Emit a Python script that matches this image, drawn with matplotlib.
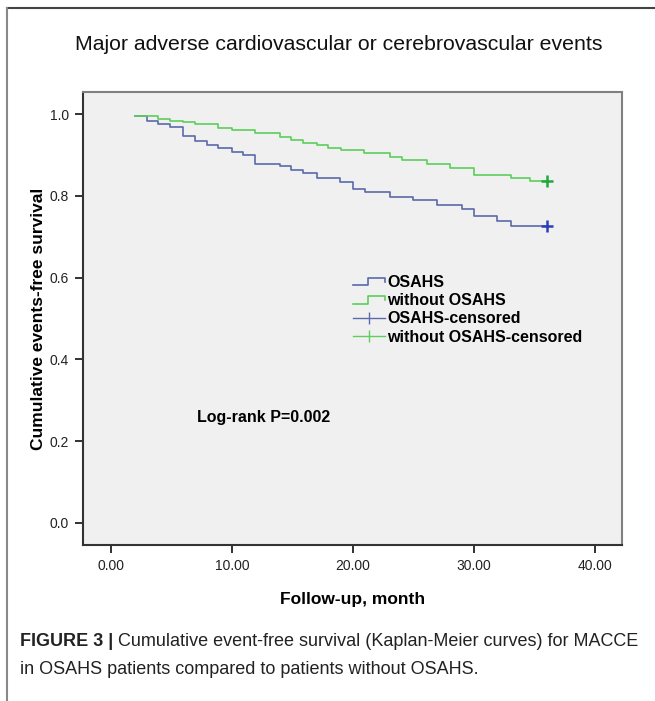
import numpy as np
import matplotlib.pyplot as plt
from matplotlib.lines import Line2D
from matplotlib.legend_handler import HandlerBase

plt.rcParams['font.family'] = ['Liberation Sans', 'DejaVu Sans']

# Kaplan-Meier step data (time in months, survival)
osahs_t = [2.0, 2.95, 3.9, 4.88, 5.98, 6.94, 7.9, 8.87, 9.97, 10.9, 11.9, 13.97,
           14.9, 15.9, 17.0, 18.9, 20.0, 21.0, 23.06, 24.98, 26.9, 29.0, 29.95,
           31.9, 33.0, 36.0]
osahs_s = [0.995, 0.983, 0.976, 0.968, 0.946, 0.935, 0.924, 0.916, 0.908, 0.900,
           0.878, 0.872, 0.863, 0.855, 0.843, 0.835, 0.817, 0.810, 0.797, 0.790,
           0.778, 0.767, 0.750, 0.739, 0.727, 0.727]

ctrl_t = [2.0, 3.9, 4.88, 5.98, 6.94, 8.87, 9.97, 11.9, 13.97, 14.9, 15.9, 17.0,
          17.9, 19.0, 20.9, 23.06, 24.0, 26.1, 28.0, 29.95, 33.0, 34.6, 36.0]
ctrl_s = [0.995, 0.988, 0.984, 0.980, 0.975, 0.966, 0.961, 0.953, 0.943, 0.937,
          0.930, 0.924, 0.918, 0.912, 0.904, 0.896, 0.888, 0.878, 0.867, 0.851,
          0.843, 0.837, 0.837]

xticks = [0, 10, 20, 30, 40]
yticks = [0.0, 0.2, 0.4, 0.6, 0.8, 1.0]

blue = '#5a6aaa'
green = '#5ccf5c'
blue_c = '#2d3fb8'
green_c = '#22a83a'


class StepHandler(HandlerBase):
    def create_artists(self, legend, orig_handle, xdescent, ydescent,
                       width, height, fontsize, trans):
        x = np.array([0, 0.45, 0.45, 1.0, 1.0]) * width - xdescent
        y = np.array([0.15, 0.15, 0.85, 0.85, 0.45]) * height - ydescent
        ln = Line2D(x, y, color=orig_handle.get_color(), lw=1.2)
        ln.set_transform(trans)
        return [ln]


fig = plt.figure(figsize=(6.55, 7.01), dpi=100)
ax = fig.add_axes([83 / 655, 1 - 545 / 701, 539 / 655, 453 / 701])
ax.set_facecolor('#f0f0f0')

ax.step(osahs_t, osahs_s, where='post', color=blue, lw=1.2)
ax.step(ctrl_t, ctrl_s, where='post', color=green, lw=1.2)
ax.plot(osahs_t[-1], osahs_s[-1], marker='+', color=blue_c, ms=9, mew=1.8)
ax.plot(ctrl_t[-1], ctrl_s[-1], marker='+', color=green_c, ms=9, mew=1.8)

ax.set_xlim(-2.3, 42.2)
ax.set_ylim(-0.054, 1.054)
ax.set_xticks(xticks)
ax.set_xticklabels([f'{v:.2f}' for v in xticks], fontsize=10, color='#222222')
ax.set_yticks(yticks)
ax.set_yticklabels([f'{v:.1f}' for v in yticks], fontsize=10, color='#222222')
ax.tick_params(axis='both', direction='out', length=6, width=1.3, color='#222222', pad=4)

for s in ['left', 'bottom']:
    ax.spines[s].set_color('#333333')
    ax.spines[s].set_linewidth(1.5)
for s in ['top', 'right']:
    ax.spines[s].set_color('#808080')
    ax.spines[s].set_linewidth(1.5)

ax.set_xlabel('Follow-up, month', fontsize=12.5, fontweight='bold', labelpad=14)
ax.set_ylabel('Cumulative events-free survival', fontsize=12.5, fontweight='bold', labelpad=3)

ax.text(7.1, 0.257, 'Log-rank P=0.002', fontsize=11.5, fontweight='bold', va='center')

handles = [Line2D([], [], color=blue), Line2D([], [], color=green),
           Line2D([], [], color=blue, marker='|', ms=9, mew=1.0, lw=1.0),
           Line2D([], [], color=green, marker='|', ms=9, mew=1.0, lw=1.0)]
labels = ['OSAHS', 'without OSAHS', 'OSAHS-censored', 'without OSAHS-censored']
ax.legend(handles, labels, loc='upper left', bbox_to_anchor=(0.49, 0.61),
          frameon=False, handlelength=2.0, handletextpad=0.12, labelspacing=0.2,
          borderaxespad=0, prop={'weight': 'bold', 'size': 11.5},
          handler_map={handles[0]: StepHandler(), handles[1]: StepHandler()})

fig.text(75 / 655, 1 - 45 / 701, 'Major adverse cardiovascular or cerebrovascular events',
         fontsize=15.3, va='center', ha='left', color='#111111')

# outer frame of the figure panel
fig.add_artist(Line2D([7 / 655, 1], [1 - 8 / 701, 1 - 8 / 701], color='#444444', lw=1.5))
fig.add_artist(Line2D([7 / 655, 7 / 655], [0, 1 - 8 / 701], color='#888888', lw=1.5))

# caption
t1 = fig.text(20 / 655, 1 - 642 / 701, 'FIGURE 3 |', fontsize=13, fontweight='bold',
              va='center', ha='left', color='#222222')
ax.annotate(' Cumulative event-free survival (Kaplan-Meier curves) for MACCE',
            xy=(1, 0), xycoords=t1, va='bottom', ha='left', fontsize=13, color='#222222',
            annotation_clip=False)
fig.text(20 / 655, 1 - 669 / 701, 'in OSAHS patients compared to patients without OSAHS.',
         fontsize=13, va='center', ha='left', color='#222222')

fig.savefig('out.png', dpi=100, facecolor='white')
